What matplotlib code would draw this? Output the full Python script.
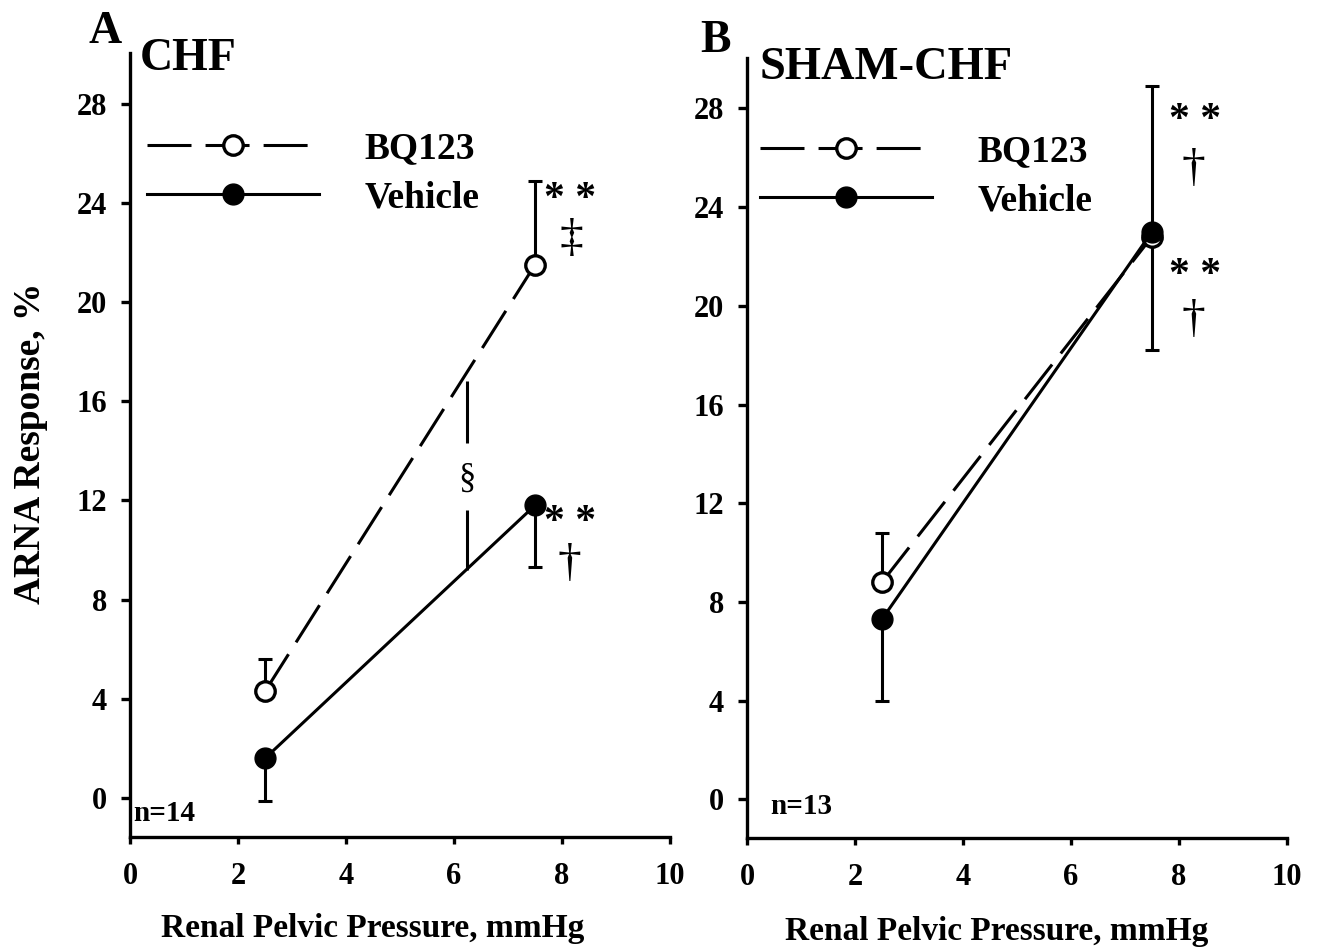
import matplotlib
matplotlib.use('Agg')
import matplotlib.pyplot as plt

plt.rcParams['font.family'] = ['Liberation Serif', 'DejaVu Serif']
plt.rcParams['font.weight'] = 'bold'

# x values (renal pelvic pressure, mmHg)
pressure = [2.5, 7.5]

# panel A - CHF
chf_bq123 = [4.3, 21.5]
chf_bq123_sem = [1.3, 3.4]      # drawn upward
chf_vehicle = [1.6, 11.8]
chf_vehicle_sem = [1.7, 2.5]    # drawn downward

# panel B - SHAM-CHF
sham_bq123 = [8.8, 22.8]
sham_bq123_sem = [2.0, 6.1]
sham_vehicle = [7.3, 23.0]
sham_vehicle_sem = [3.3, 4.8]

xticks = [0, 2, 4, 6, 8, 10]
yticks = [0, 4, 8, 12, 16, 20, 24, 28]

# significance marks (x, y, text)
chf_marks = [(8.15, 24.1, '* *'), (8.17, 22.5, '\u2021'), (8.15, 11.1, '* *'), (8.13, 9.4, '\u2020')]
sham_marks = [(8.3, 27.5, '* *'), (8.27, 25.5, '\u2020'), (8.3, 21.2, '* *'), (8.27, 19.4, '\u2020')]
# section sign comparing groups in panel A
sect_x = 6.24
sect_segments = [(14.3, 16.8), (9.2, 11.6)]
sect_y = 12.9

LW = 2.2
DASH = (14.4, 4.6)

fig = plt.figure(figsize=(13.17, 9.52), dpi=100)
axA = fig.add_axes([0.0987, 0.1208, 0.410, 0.8235])
axB = fig.add_axes([0.5672, 0.1197, 0.410, 0.8193])


def draw_panel(ax, bq, bq_sem, veh, veh_sem, marks, n_text, n_pos, leg_anchor):
    # error bars (one-sided)
    ax.errorbar(pressure, bq, yerr=[[0] * len(bq), bq_sem], fmt='none',
                ecolor='black', elinewidth=LW, capsize=5, capthick=LW, zorder=2)
    ax.errorbar(pressure, veh, yerr=[veh_sem, [0] * len(veh)], fmt='none',
                ecolor='black', elinewidth=LW, capsize=5, capthick=LW, zorder=2)
    l1, = ax.plot(pressure, bq, color='black', lw=LW, dashes=DASH, marker='o',
                  ms=14, mfc='white', mec='black', mew=2.4, label='BQ123', zorder=3)
    l2, = ax.plot(pressure, veh, color='black', lw=LW, marker='o',
                  ms=15, mfc='black', mec='black', label='Vehicle', zorder=4)

    for x, y, t in marks:
        if '*' in t:
            ax.text(x, y, t, fontsize=30, fontweight='bold', ha='center', va='center')
        else:
            ax.text(x, y, t, fontsize=34, fontweight='normal', ha='center', va='center')

    ax.text(n_pos[0], n_pos[1], n_text, transform=ax.transAxes, fontsize=21,
            fontweight='bold', ha='left', va='center')

    ax.set_xlim(0, 10)
    ax.set_ylim(-1.57, 30.04)
    ax.set_xticks(xticks)
    ax.set_yticks(yticks)
    for s in ['top', 'right']:
        ax.spines[s].set_visible(False)
    for s in ['left', 'bottom']:
        ax.spines[s].set_linewidth(2.4)
    ax.tick_params(axis='y', direction='out', length=6.5, width=2.4, pad=10, labelsize=22)
    ax.tick_params(axis='x', direction='out', length=5, width=2.4, pad=13, labelsize=22)
    for lab in ax.get_xticklabels() + ax.get_yticklabels():
        lab.set_fontweight('bold')

    ax.legend(handles=[l1, l2], loc='upper left', bbox_to_anchor=leg_anchor,
              frameon=False, handlelength=4.6, handletextpad=1.2,
              labelspacing=0.37, borderpad=0, borderaxespad=0, numpoints=1,
              prop={'weight': 'bold', 'size': 27})


draw_panel(axA, chf_bq123, chf_bq123_sem, chf_vehicle, chf_vehicle_sem,
           chf_marks, 'n=14', (0.006, 0.03), (0.031, 0.90))
draw_panel(axB, sham_bq123, sham_bq123_sem, sham_vehicle, sham_vehicle_sem,
           sham_marks, 'n=13', (0.043, 0.04), (0.024, 0.902))

# section sign in panel A
for lo, hi in sect_segments:
    axA.vlines(sect_x, lo, hi, color='black', lw=LW)
axA.text(sect_x, sect_y, '\u00a7', fontsize=25, fontweight='normal', ha='center', va='center')

# panel letters and titles
fig.text(0.0797, 0.955, 'A', fontsize=33, fontweight='bold', ha='center', va='baseline')
fig.text(0.106, 0.926, 'CHF', fontsize=33, fontweight='bold', ha='left', va='baseline')
fig.text(0.543, 0.945, 'B', fontsize=33, fontweight='bold', ha='center', va='baseline')
fig.text(0.577, 0.917, 'SHAM-CHF', fontsize=33.5, fontweight='bold', ha='left', va='baseline')

# axis labels
fig.text(0.023, 0.534, 'ARNA Response, %', fontsize=27, fontweight='bold',
         rotation=90, ha='center', va='center')
fig.text(0.283, 0.025, 'Renal Pelvic Pressure, mmHg', fontsize=24, fontweight='bold',
         ha='center', va='center')
fig.text(0.757, 0.022, 'Renal Pelvic Pressure, mmHg', fontsize=24, fontweight='bold',
         ha='center', va='center')

fig.savefig('out.png', dpi=100)
